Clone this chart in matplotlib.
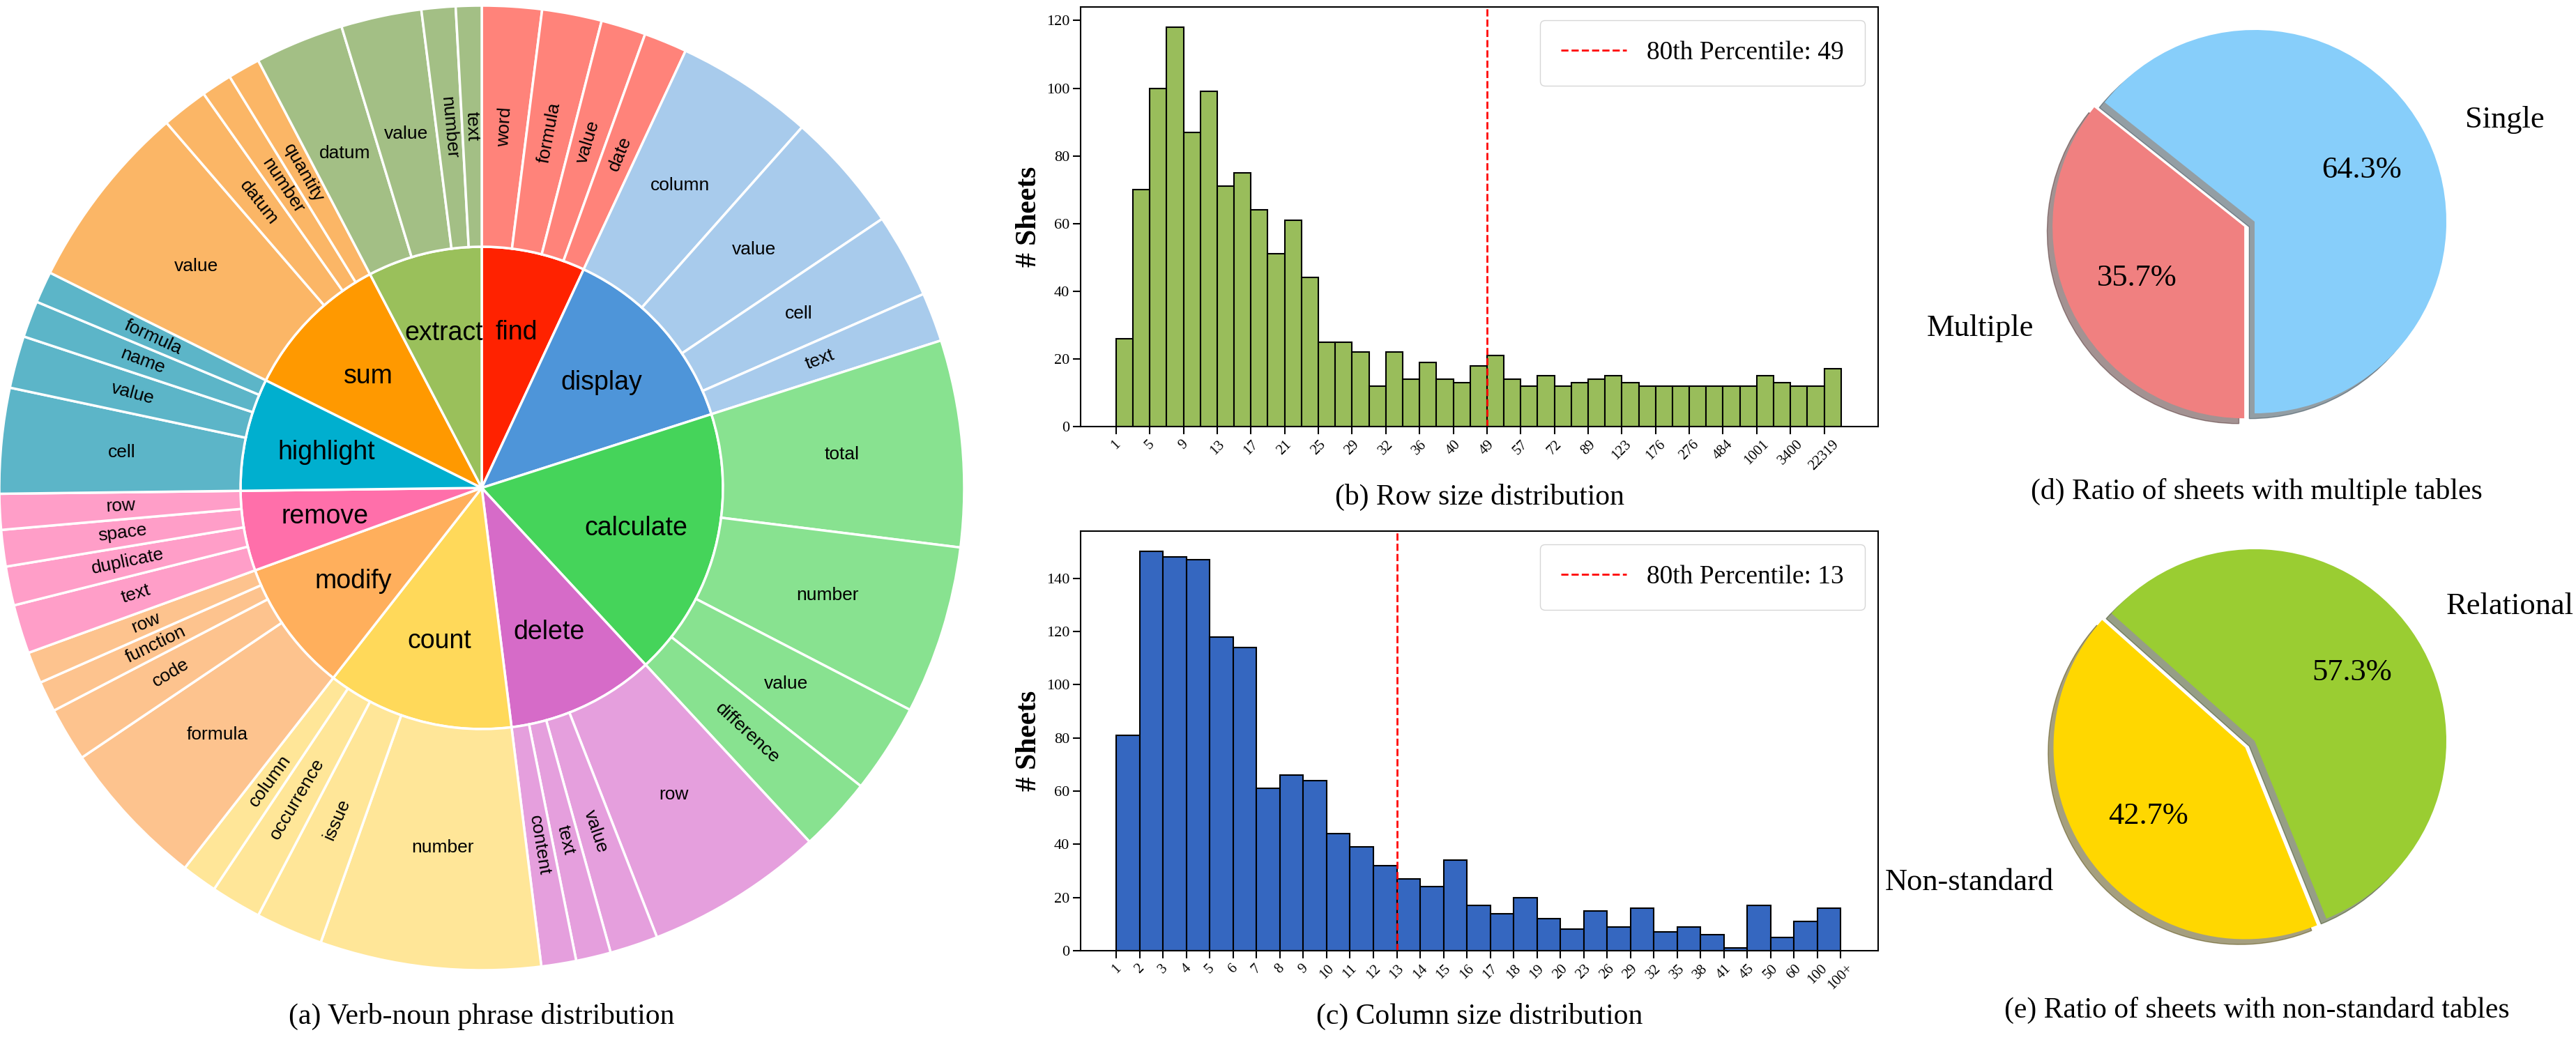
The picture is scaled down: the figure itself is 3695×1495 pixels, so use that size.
import numpy as np
import matplotlib
matplotlib.use("Agg")
import matplotlib.pyplot as plt

# ---------------- data ----------------
verbs = ["find", "display", "calculate", "delete", "count", "modify", "remove", "highlight", "sum", "extract"]
nouns = [["word", "formula", "value", "date"],
         ["column", "value", "cell", "text"],
         ["total", "number", "value", "difference"],
         ["row", "value", "text", "content"],
         ["number", "issue", "occurrence", "column"],
         ["formula", "code", "function", "row"],
         ["text", "duplicate", "space", "row"],
         ["cell", "value", "name", "formula"],
         ["value", "datum", "number", "quantity"],
         ["datum", "value", "number", "text"]]
noun_share = [[7.2, 7.2, 5.4, 5.2],
              [16.6, 14.5, 10.2, 5.9],
              [24.9, 20.3, 10.8, 9.0],
              [21.5, 5.8, 4.2, 4.2],
              [26.6, 8.1, 6.1, 4.3],
              [18.0, 6.5, 3.7, 3.8],
              [5.9, 4.7, 4.4, 4.3],
              [12.7, 6.3, 4.4, 3.8],
              [22.7, 5.6, 3.7, 3.9],
              [10.7, 9.7, 4.1, 3.1]]
inner_colors = ["#FF2200", "#4E95D9", "#45D45A", "#D66BC8", "#FFD95A",
                "#FFAF5C", "#FF6FAA", "#00AFCF", "#FF9900", "#9AC05B"]
outer_colors = ["#FF837A", "#A8CBEC", "#88E290", "#E59FDD", "#FFE698",
                "#FDC38E", "#FF9EC8", "#5CB5C8", "#FBB666", "#A3BF85"]

row_labels = ["1", "5", "9", "13", "17", "21", "25", "29", "32", "36", "40", "49", "57", "72",
              "89", "123", "176", "276", "484", "1001", "3400", "22319"]
row_counts = [26, 70, 100, 118, 87, 99, 71, 75, 64, 51, 61, 44, 25, 25, 22, 12, 22, 14, 19, 14, 13, 18,
              21, 14, 12, 15, 12, 13, 14, 15, 13, 12, 12, 12, 12, 12, 12, 12, 15, 13, 12, 12, 17]
row_p80_index = 22
row_p80 = 49

col_labels = [str(i) for i in range(1, 21)] + ["23", "26", "29", "32", "35", "38", "41", "45",
                                               "50", "60", "100", "100+"]
col_counts = [81, 150, 148, 147, 118, 114, 61, 66, 64, 44, 39, 32, 27, 24, 34, 17, 14, 20, 12, 8,
              15, 9, 16, 7, 9, 6, 1, 17, 5, 11, 16]
col_p80_index = 12
col_p80 = 13

pie_d_labels = ["Single", "Multiple"]
pie_d_values = [64.3, 35.7]
pie_e_labels = ["Relational", "Non-standard"]
pie_e_values = [57.3, 42.7]

# ---------------- figure ----------------
W, H = 3695, 1495
fig = plt.figure(figsize=(W / 100, H / 100), dpi=100)
serif = ["Liberation Serif", "DejaVu Serif"]
sans = ["Liberation Sans", "DejaVu Sans"]


def fa(x0, y0, x1, y1):
    return [x0 / W, 1 - y1 / H, (x1 - x0) / W, (y1 - y0) / H]


# ---------- (a) sunburst ----------
ax = fig.add_axes(fa(-1, 8, 1383, 1392))
inner_vals = [sum(v) for v in noun_share]
wp = dict(edgecolor="white", linewidth=2.5)
ax.pie(inner_vals, radius=0.5, colors=inner_colors, startangle=90, counterclock=False,
       wedgeprops=wp)
flat_vals = [v for vs in noun_share for v in vs]
flat_cols = [outer_colors[i] for i, vs in enumerate(noun_share) for _ in vs]
ax.pie(flat_vals, radius=1.0, colors=flat_cols, startangle=90, counterclock=False,
       wedgeprops=dict(width=0.5, **wp))
tot = sum(flat_vals)
acc = 0.0
for i, v in enumerate(verbs):
    span = inner_vals[i] / tot * 360
    mid = acc + span / 2
    phi = np.deg2rad(90 - mid)
    ax.text(0.33 * np.cos(phi), 0.33 * np.sin(phi), v, ha="center", va="center",
            fontsize=27, family=sans)
    a2 = acc
    for n, s in zip(nouns[i], noun_share[i]):
        sp = s / tot * 360
        m = a2 + sp / 2
        ph = 90 - m
        if sp < 9.5:
            rot = ph
            while rot > 90:
                rot -= 180
            while rot <= -90:
                rot += 180
        else:
            rot = 0
        r = 0.75
        ax.text(r * np.cos(np.deg2rad(ph)), r * np.sin(np.deg2rad(ph)), n, ha="center",
                va="center", rotation=rot, rotation_mode="anchor", fontsize=19, family=sans)
        a2 += sp
    acc += span
ax.set_xlim(-1.0, 1.0)
ax.set_ylim(-1.0, 1.0)
ax.set_aspect("equal")
ax.axis("off")
fig.text(691 / W, 1 - 1458 / H, "(a) Verb-noun phrase distribution", ha="center", va="center",
         fontsize=30, family=serif)


# ---------- histograms ----------
def hist(rect, counts, labels, tick_pos, color, p80_idx, p80, ylim, yticks, xlim, title, ty):
    a = fig.add_axes(rect)
    x = np.arange(len(counts))
    a.bar(x, counts, width=1.0, align="edge", color=color, edgecolor="black", linewidth=1.5)
    a.axvline(p80_idx, color="red", linestyle="--", linewidth=2,
              label=f"80th Percentile: {p80}")
    a.set_xticks(tick_pos)
    a.set_xticklabels(labels, rotation=45, fontsize=15, family=serif)
    a.set_yticks(yticks)
    a.set_yticklabels([str(t) for t in yticks], fontsize=16, family=serif)
    a.set_xlim(*xlim)
    a.set_ylim(*ylim)
    a.tick_params(length=8, width=1.5)
    for s in a.spines.values():
        s.set_linewidth(1.5)
    a.set_ylabel("# Sheets", fontsize=30, fontweight="bold", family=serif)
    leg = a.legend(loc="upper right", prop=dict(family=serif, size=27), borderpad=0.8,
                   handlelength=2.5, fancybox=True)
    fig.text((1550 + 2694) / 2 / W, 1 - ty / H, title, ha="center", va="center",
             fontsize=30, family=serif)
    return a


hist(fa(1550, 10, 2694, 612), row_counts, row_labels, list(range(0, 43, 2)), "#99BD5B",
     row_p80_index, row_p80, (0, 124), list(range(0, 121, 20)), (-2.1, 45.2),
     "(b) Row size distribution", 713)
hist(fa(1550, 762, 2694, 1364), col_counts, col_labels, list(range(0, 32)), "#3567C0",
     col_p80_index, col_p80, (0, 157.7), list(range(0, 141, 20)), (-1.53, 32.6),
     "(c) Column size distribution", 1458)


# ---------- pies ----------
def pie(cx, cy, values, labels, colors, start, title, ty):
    R = 275
    half = 1.25 * R
    a = fig.add_axes(fa(cx - half, cy - half, cx + half, cy + half))
    wedges, texts, autotexts = a.pie(values, labels=labels, colors=colors, startangle=start,
                                     explode=(0, 0.06), shadow=True, autopct="%1.1f%%",
                                     pctdistance=0.62, labeldistance=1.22,
                                     textprops=dict(family=serif, fontsize=32))
    a.set_xlim(-1.25, 1.25)
    a.set_ylim(-1.25, 1.25)
    a.set_aspect("equal")
    a.axis("off")
    fig.text(3237 / W, 1 - ty / H, title, ha="center", va="center", fontsize=30, family=serif)


pie(3234, 318, pie_d_values, pie_d_labels, ["#87CEFA", "#F08080"], -90,
    "(d) Ratio of sheets with multiple tables", 705)
pie(3234, 1063, pie_e_values, pie_e_labels, ["#9ACD32", "#FFD700"], -68,
    "(e) Ratio of sheets with non-standard tables", 1449)

fig.savefig("out.png", dpi=100)
